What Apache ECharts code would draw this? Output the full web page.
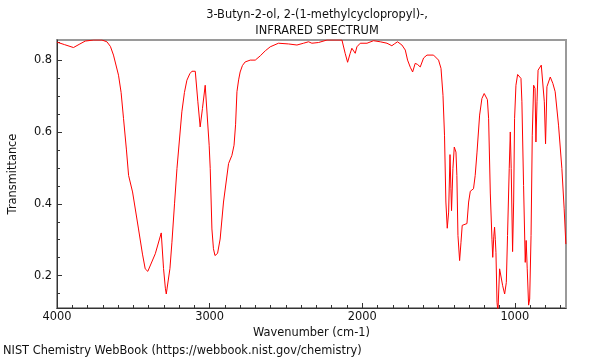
<!DOCTYPE html>
<html>
<head>
<meta charset="utf-8">
<script src="https://cdn.jsdelivr.net/npm/echarts@6/dist/echarts.min.js"></script>
<style>html,body{margin:0;padding:0;background:#fff}#c{width:600px;height:360px}</style>
</head>
<body>
<div id="c"></div>
<script>
var titleLines = ['3-Butyn-2-ol, 2-(1-methylcyclopropyl)-,', 'INFRARED SPECTRUM'];
var xLabelTicks = [1000, 2000, 3000, 4000];
var yLabelTicks = [0.2, 0.4, 0.6, 0.8];
var wavenumbers = [4000,3994,3950,3892,3850,3815,3760,3706,3673,3650,3630,3597,3580,3564,3545,3531,3505,3466,3440,3422,3405,3394,3356,3317,3306,3302,3290,3284,3273,3260,3247,3230,3214,3182,3165,3149,3130,3116,3094,3077,3062,3047,3029,3018,3003,2996,2985,2975,2965,2955,2948,2931,2909,2876,2854,2840,2830,2821,2810,2800,2785,2767,2734,2701,2668,2635,2603,2549,2483,2428,2385,2352,2330,2286,2231,2133,2127,2112,2096,2079,2068,2057,2046,2035,2013,1969,1926,1882,1838,1806,1790,1769,1740,1718,1703,1685,1670,1653,1638,1620,1598,1576,1533,1500,1484,1471,1461,1452,1443,1434,1425,1419,1415,1406,1397,1386,1380,1373,1362,1353,1345,1332,1314,1303,1292,1271,1260,1248,1231,1216,1201,1190,1180,1172,1161,1150,1145,1138,1133,1128,1124,1117,1111,1100,1091,1080,1067,1056,1048,1037,1030,1024,1015,1008,1002,993,982,971,960,954,943,932,926,919,910,903,894,886,877,868,862,855,848,838,827,814,807,799,790,779,768,751,736,714,692,677,666];
var transmittance = [0.850,0.849,0.843,0.835,0.845,0.853,0.856,0.856,0.851,0.838,0.814,0.758,0.710,0.637,0.550,0.479,0.433,0.330,0.260,0.219,0.212,0.214,0.261,0.319,0.321,0.220,0.165,0.149,0.153,0.220,0.293,0.400,0.498,0.656,0.710,0.744,0.762,0.769,0.769,0.684,0.614,0.665,0.730,0.730,0.563,0.498,0.330,0.275,0.256,0.255,0.262,0.302,0.405,0.512,0.535,0.563,0.620,0.712,0.745,0.767,0.785,0.795,0.800,0.800,0.812,0.826,0.837,0.847,0.845,0.842,0.847,0.851,0.847,0.849,0.856,0.856,0.853,0.819,0.794,0.819,0.833,0.828,0.819,0.837,0.847,0.847,0.854,0.851,0.847,0.840,0.845,0.851,0.842,0.828,0.800,0.780,0.767,0.791,0.788,0.781,0.806,0.814,0.814,0.800,0.777,0.702,0.591,0.405,0.332,0.377,0.537,0.442,0.381,0.498,0.558,0.544,0.479,0.312,0.242,0.293,0.340,0.344,0.345,0.405,0.435,0.442,0.479,0.544,0.647,0.693,0.707,0.708,0.690,0.637,0.430,0.300,0.251,0.310,0.335,0.300,0.265,0.126,0.100,0.219,0.214,0.172,0.149,0.181,0.312,0.498,0.600,0.498,0.267,0.405,0.637,0.730,0.760,0.763,0.749,0.684,0.451,0.237,0.298,0.219,0.118,0.135,0.312,0.591,0.730,0.721,0.572,0.684,0.772,0.777,0.786,0.781,0.684,0.567,0.726,0.730,0.753,0.735,0.712,0.619,0.498,0.386,0.288];

var X_MIN = 665, X_MAX = 4000, Y_MIN = 0.11, Y_MAX = 0.856;
var xMinor = [];
for (var v = 700; v <= 4000; v += 100) xMinor.push(v);
var yMinor = [];
for (var k = 3; k <= 17; k++) yMinor.push(+(k * 0.05).toFixed(2));

var FONT = 'DejaVu Sans';
var FS = 11.4;
var data = wavenumbers.map(function (w, i) { return [w, transmittance[i]]; });

var chart = echarts.init(document.getElementById('c'), null, {renderer: 'canvas'});
chart.setOption({
  animation: false,
  backgroundColor: '#fff',
  title: {
    text: titleLines.join('\n'),
    left: 312, top: 2, textAlign: 'center',
    textStyle: {fontFamily: FONT, fontSize: FS, fontWeight: 'normal', color: '#111', lineHeight: 16}
  },
  grid: {left: 57, right: 34, top: 40, bottom: 52, show: true, borderColor: '#9a9a9a', borderWidth: 2, backgroundColor: 'transparent'},
  xAxis: [{
    type: 'value', inverse: true, min: X_MIN, max: X_MAX,
    name: 'Wavenumber (cm-1)', nameLocation: 'middle', nameGap: 18,
    nameTextStyle: {fontFamily: FONT, fontSize: FS, color: '#111'},
    axisLine: {show: true, onZero: false, lineStyle: {color: '#333', width: 1}},
    axisTick: {show: true, inside: true, length: 5, customValues: xLabelTicks, lineStyle: {color: '#333'}},
    axisLabel: {show: true, customValues: xLabelTicks, margin: 4, fontFamily: FONT, fontSize: FS, color: '#111',
      formatter: function (v) { return String(v); }},
    splitLine: {show: false}
  }, {
    type: 'value', inverse: true, min: X_MIN, max: X_MAX, position: 'bottom',
    axisLine: {show: false},
    axisTick: {show: true, inside: true, length: 3, customValues: xMinor, lineStyle: {color: '#333'}},
    axisLabel: {show: false},
    splitLine: {show: false}
  }],
  yAxis: [{
    type: 'value', min: Y_MIN, max: Y_MAX,
    name: 'Transmittance', nameLocation: 'middle', nameGap: 38,
    nameTextStyle: {fontFamily: FONT, fontSize: FS, color: '#111'},
    axisLine: {show: true, onZero: false, lineStyle: {color: '#333', width: 1}},
    axisTick: {show: true, inside: true, length: 5, customValues: yLabelTicks, lineStyle: {color: '#333'}},
    axisLabel: {show: true, customValues: yLabelTicks, margin: 5, fontFamily: FONT, fontSize: FS, color: '#111',
      formatter: function (v) { return v.toFixed(1); }},
    splitLine: {show: false}
  }, {
    type: 'value', min: Y_MIN, max: Y_MAX, position: 'left',
    axisLine: {show: false},
    axisTick: {show: true, inside: true, length: 3, customValues: yMinor, lineStyle: {color: '#333'}},
    axisLabel: {show: false},
    splitLine: {show: false}
  }],
  graphic: [{
    type: 'text', left: 3, top: 346,
    style: {text: 'NIST Chemistry WebBook (https://webbook.nist.gov/chemistry)', font: FS + 'px "DejaVu Sans"', fill: '#111'}
  }],
  series: [{
    type: 'line', xAxisIndex: 0, yAxisIndex: 0, data: data,
    showSymbol: false, symbol: 'none', clip: true,
    lineStyle: {color: '#ff0000', width: 1}
  }]
});
</script>
</body>
</html>
